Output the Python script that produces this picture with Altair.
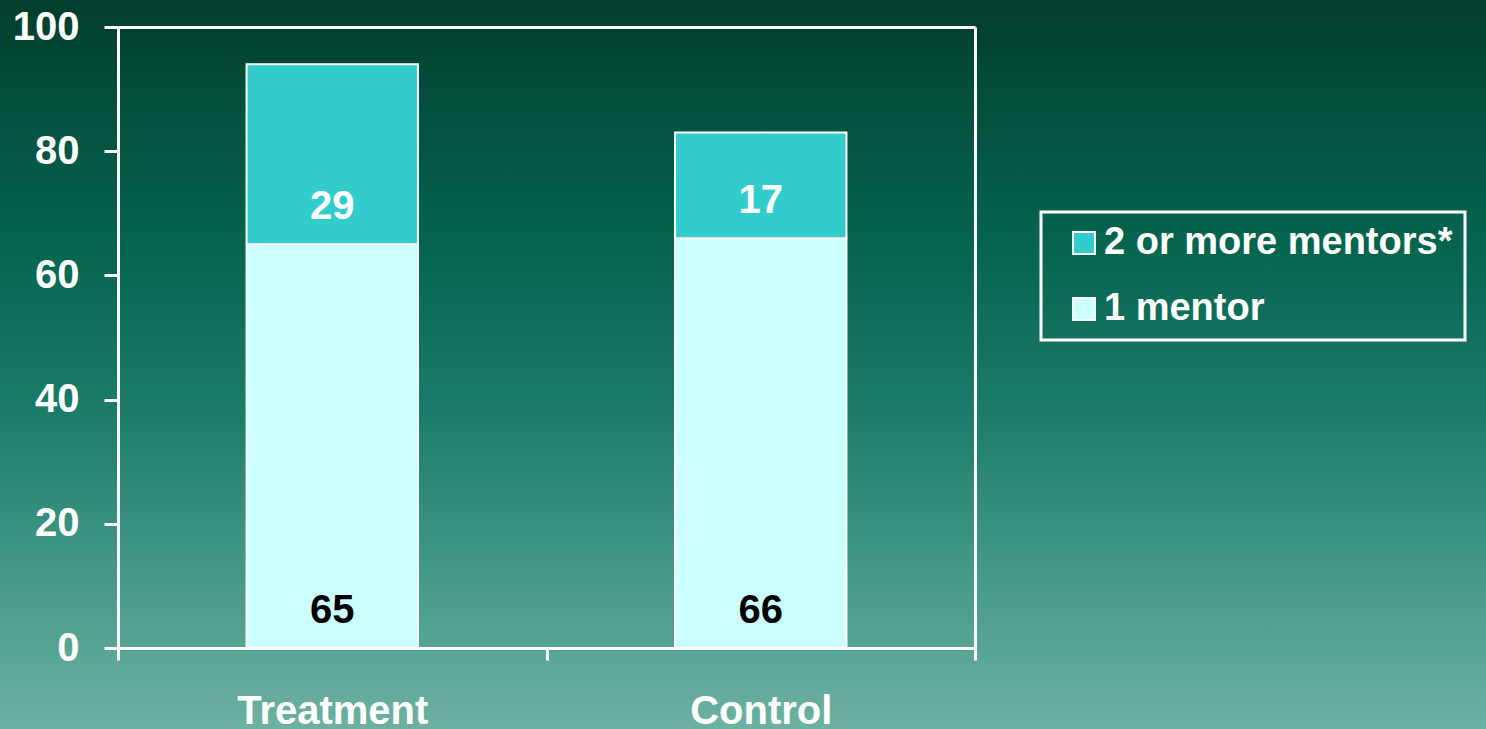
import altair as alt
import pandas as pd

# Share of participants by number of mentors
groups = ["Treatment", "Treatment", "Control", "Control"]
series = ["1 mentor", "2 or more mentors*", "1 mentor", "2 or more mentors*"]
values = [65, 29, 66, 17]

legend_order = ["2 or more mentors*", "1 mentor"]
legend_colors = ["#33CCCC", "#CCFFFF"]

df = pd.DataFrame({"group": groups, "series": series, "value": values})
df["stack_rank"] = df["series"].map({"1 mentor": 0, "2 or more mentors*": 1})
df = df.sort_values(["group", "stack_rank"])
df["top"] = df.groupby("group")["value"].cumsum()
df["base"] = df["top"] - df["value"]

W, H = 857, 621          # plot area
LEFT, TOP = 118, 27      # plot origin inside the page
PAGE_W, PAGE_H = 1486, 729
FONT = "Liberation Sans"

x_scale = alt.Scale(domain=["Treatment", "Control"], paddingInner=0, paddingOuter=0)
y_scale = alt.Scale(domain=[0, 100], nice=False)

# slide-style vertical gradient behind everything
backdrop = alt.Chart(pd.DataFrame({"k": [0]})).mark_rect(
    color=alt.LinearGradient(
        gradient="linear",
        x1=0, x2=0, y1=0, y2=1,
        stops=[
            alt.GradientStop(offset=0.0, color="#023c2c"),
            alt.GradientStop(offset=0.14, color="#034f3c"),
            alt.GradientStop(offset=0.34, color="#06654f"),
            alt.GradientStop(offset=0.55, color="#197a67"),
            alt.GradientStop(offset=0.75, color="#3e9482"),
            alt.GradientStop(offset=1.0, color="#6db1a2"),
        ],
    )
).encode(
    x=alt.value(-LEFT), x2=alt.value(PAGE_W - LEFT),
    y=alt.value(-TOP), y2=alt.value(PAGE_H - TOP),
)

bars = alt.Chart(df).mark_bar(
    width=alt.RelativeBandSize(0.4), stroke="white", strokeWidth=2
).encode(
    x=alt.X("group:N", scale=x_scale, sort=["Treatment", "Control"],
            axis=alt.Axis(title=None, orient="bottom", labelAngle=0, tickBand="extent",
                          domainColor="white", domainWidth=3,
                          tickColor="white", tickWidth=3, tickSize=12,
                          labelColor="white", labelFont=FONT, labelFontSize=40,
                          labelFontWeight="bold", labelPadding=31, labelLimit=500,
                          zindex=1)),
    y=alt.Y("base:Q", scale=y_scale,
            axis=alt.Axis(title=None, orient="left", values=[0, 20, 40, 60, 80, 100],
                          grid=False, domainColor="white", domainWidth=3,
                          tickColor="white", tickWidth=3, tickSize=14,
                          labelColor="white", labelFont=FONT, labelFontSize=40,
                          labelFontWeight="bold", labelPadding=25, zindex=1)),
    y2="top:Q",
    color=alt.Color("series:N",
                    scale=alt.Scale(domain=legend_order, range=legend_colors),
                    legend=alt.Legend(
                        title=None, orient="none", legendX=923, legendY=185,
                        strokeColor="white", padding=12,
                        symbolType="square", symbolSize=480,
                        symbolStrokeColor="white", symbolStrokeWidth=2,
                        symbolOffset=12, labelOffset=1, rowPadding=28,
                        labelLimit=600,
                        labelColor="white", labelFont=FONT, labelFontSize=38,
                        labelFontWeight="bold", zindex=1)),
)

labels = alt.Chart(df).mark_text(
    font=FONT, fontSize=40, fontWeight="bold", baseline="middle", dy=-37
).encode(
    x=alt.X("group:N", scale=x_scale, sort=["Treatment", "Control"],
            axis=alt.Axis(title=None, orient="top", labels=False, ticks=False,
                          domainColor="white", domainWidth=3, zindex=1)),
    y=alt.Y("base:Q", scale=y_scale,
            axis=alt.Axis(title=None, orient="right", labels=False, ticks=False,
                          grid=False, domainColor="white", domainWidth=3, zindex=1)),
    text=alt.Text("value:Q"),
    color=alt.condition(alt.datum.series == "1 mentor", alt.value("black"), alt.value("white")),
)

chart = alt.layer(backdrop, bars, labels).resolve_axis(
    x="independent", y="independent"
).properties(
    width=W, height=H
).configure(
    padding=0, background="#023c2c"
).configure_view(
    stroke=None
).configure_legend(
    strokeWidth=3
)

chart.save("out.html", embed_options={"renderer": "svg", "actions": False})
